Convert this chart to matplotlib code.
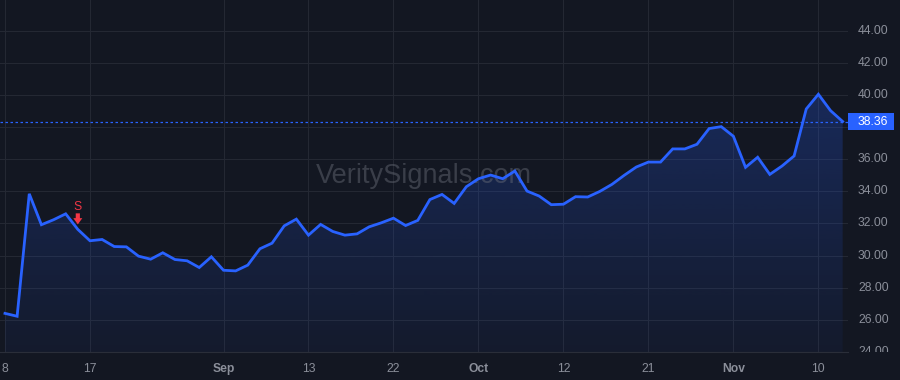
import matplotlib as mpl
mpl.use('Agg')
import matplotlib.pyplot as plt
import numpy as np
from matplotlib.patches import Rectangle, Polygon
from matplotlib.colors import LinearSegmentedColormap

plt.rcParams['font.family'] = ['Liberation Sans', 'DejaVu Sans']

# daily closes, one per trading session
prices = [26.39, 26.21, 33.85, 31.92, 32.23, 32.60, 31.63, 30.92, 31.00, 30.56,
          30.54, 29.96, 29.77, 30.17, 29.75, 29.67, 29.25, 29.92, 29.08, 29.04,
          29.40, 30.42, 30.77, 31.85, 32.27, 31.27, 31.94, 31.50, 31.27, 31.35,
          31.79, 32.04, 32.33, 31.87, 32.19, 33.49, 33.81, 33.25, 34.29, 34.79,
          35.02, 34.79, 35.27, 34.02, 33.71, 33.17, 33.20, 33.67, 33.65, 34.00,
          34.44, 35.00, 35.52, 35.83, 35.83, 36.65, 36.65, 36.94, 37.92, 38.04,
          37.44, 35.50, 36.13, 35.06, 35.58, 36.21, 39.14, 40.06, 39.04, 38.36]
last_price = 38.36
tick_idx = [0, 7, 18, 25, 32, 39, 46, 53, 60, 67]
tick_lbl = ['8', '17', 'Sep', '13', '22', 'Oct', '12', '21', 'Nov', '10']
month_lbl = ['Sep', 'Oct', 'Nov']
price_ticks = [24, 26, 28, 30, 32, 34, 36, 38, 40, 42, 44]
signal_idx = 6
signal_txt = 'S'

bg = '#131722'
grid_c = '#242833'
line_c = '#2962ff'
txt_c = '#8b8f9a'
red = '#f23645'

x = np.arange(len(prices))
y = np.array(prices)
ylo, yhi = 23.98, 45.94
xlo, xhi = -0.41, 69.44

fig = plt.figure(figsize=(9, 3.8), dpi=100, facecolor=bg)
ax = fig.add_axes([0, 28/380, 848/900, 352/380], facecolor=bg)
ax.set_xlim(xlo, xhi)
ax.set_ylim(ylo, yhi)

# gradient fill under the line
cmap = LinearSegmentedColormap.from_list('g', [(41/255, 98/255, 255/255, 0.05),
                                               (41/255, 98/255, 255/255, 0.25)])
grad = np.linspace(0, 1, 256).reshape(-1, 1)
im = ax.imshow(grad, cmap=cmap, origin='lower', aspect='auto',
               extent=[x[0], x[-1], ylo, y.max()], zorder=1)
poly = Polygon(np.vstack([np.column_stack([x, y]), [[x[-1], ylo], [x[0], ylo]]]),
               closed=True, facecolor='none', edgecolor='none')
ax.add_patch(poly)
im.set_clip_path(poly)

ax.plot(x, y, color=line_c, lw=2, zorder=3, solid_joinstyle='miter')
ax.axhline(last_price, color=line_c, lw=0.9, ls=(0, (2, 2)), zorder=2)

ax.set_yticks(price_ticks)
ax.set_xticks(tick_idx)
ax.set_xticklabels(tick_lbl)
for t in ax.get_xticklabels():
    if t.get_text() in month_lbl:
        t.set_fontweight('bold')
ax.tick_params(axis='x', length=0, colors=txt_c, labelsize=8.7, pad=8)
ax.tick_params(axis='y', length=0, labelleft=False)
ax.grid(True, color=grid_c, lw=0.8)
ax.set_axisbelow(True)
for s in ['top', 'right', 'left']:
    ax.spines[s].set_visible(False)
ax.spines['bottom'].set_color('#2a2e39')

# watermark
ax.text(0.5, 0.5, 'VeritySignals.com', transform=ax.transAxes, ha='center',
        va='center', fontsize=19.5, color='#6a6e79', alpha=0.45, zorder=2)

# sell signal
ax.text(signal_idx, prices[signal_idx] + 1.39, signal_txt, color=red, ha='center',
        va='center', fontsize=8.7, zorder=4)
ax.annotate('', xy=(signal_idx, prices[signal_idx] + 0.31),
            xytext=(signal_idx, prices[signal_idx] + 1.0),
            arrowprops=dict(arrowstyle='simple,head_width=0.65,head_length=0.45,tail_width=0.3',
                            color=red, lw=0, mutation_scale=10, shrinkA=0, shrinkB=0),
            zorder=4)

# price scale on the right
rax = fig.add_axes([848/900, 28/380, 52/900, 352/380], facecolor=bg)
rax.set_ylim(ylo, yhi)
rax.set_xlim(0, 1)
rax.axis('off')
for p in price_ticks:
    rax.text(10/52, p, f'{p:.2f}', color=txt_c, fontsize=8.7, va='center',
             ha='left', clip_on=True)
rax.add_patch(Rectangle((0, last_price - 0.5), 46/52, 1.0, facecolor=line_c,
                        edgecolor='none', zorder=3))
rax.text(10/52, last_price, f'{last_price:.2f}', color='white', fontsize=8.7,
         va='center', ha='left', zorder=4)

fig.savefig('out.png', facecolor=bg)
